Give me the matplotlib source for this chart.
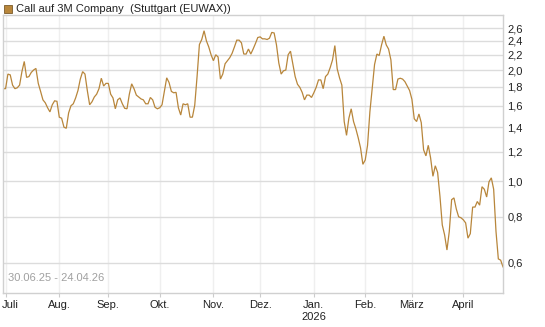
import matplotlib
matplotlib.use("Agg")
import matplotlib.pyplot as plt
import matplotlib.ticker as mticker
import pandas as pd
import numpy as np

plt.rcParams['font.family'] = ['Liberation Sans', 'DejaVu Sans']

title = "Call auf 3M Company  (Stuttgart (EUWAX))"
date_range_text = "30.06.25 - 24.04.26"
start_date = "2025-06-30"
end_date = "2026-04-24"

values = [
    1.78, 1.78, 1.95, 1.94, 1.82, 1.78, 1.79, 1.82, 1.98, 2.11,
    1.91, 1.92, 1.97, 2.00, 2.02, 1.84, 1.75, 1.66, 1.63, 1.58,
    1.54, 1.61, 1.65, 1.645, 1.49, 1.48, 1.40, 1.39, 1.53, 1.60,
    1.62, 1.68, 1.76, 1.89, 1.98, 1.95, 1.76, 1.61, 1.64, 1.69,
    1.72, 1.78, 1.90, 1.81, 1.84, 1.84, 1.72, 1.68, 1.57, 1.66,
    1.68, 1.62, 1.575, 1.57, 1.72, 1.835, 1.78, 1.71, 1.69, 1.67,
    1.66, 1.62, 1.62, 1.685, 1.66, 1.585, 1.57, 1.58, 1.61, 1.75,
    1.905, 1.85, 1.75, 1.735, 1.74, 1.58, 1.51, 1.62, 1.61, 1.62,
    1.49, 1.49, 1.605, 1.92, 2.345, 2.42, 2.556, 2.40, 2.31, 2.20,
    2.12, 2.20, 2.17, 1.89, 1.95, 2.08, 2.12, 2.16, 2.22, 2.31,
    2.41, 2.41, 2.37, 2.21, 2.21, 2.28, 2.21, 2.28, 2.36, 2.45,
    2.46, 2.43, 2.43, 2.42, 2.44, 2.53, 2.52, 2.34, 2.09, 1.95,
    1.99, 2.00, 2.20, 2.25, 2.08, 1.92, 1.83, 1.795, 1.74, 1.66,
    1.71, 1.71, 1.685, 1.735, 1.795, 1.88, 1.88, 1.78, 1.92, 1.95,
    2.03, 2.13, 2.33, 2.015, 1.905, 1.82, 1.45, 1.33, 1.48, 1.57,
    1.45, 1.385, 1.31, 1.23, 1.11, 1.14, 1.25, 1.54, 1.78, 2.07,
    2.21, 2.19, 2.34, 2.47, 2.34, 2.28, 2.13, 1.77, 1.77, 1.89,
    1.90, 1.89, 1.86, 1.81, 1.76, 1.665, 1.475, 1.45, 1.52, 1.44,
    1.215, 1.17, 1.25, 1.155, 1.03, 1.10, 1.055, 0.91, 0.76, 0.714,
    0.65, 0.73, 0.89, 0.90, 0.84, 0.80, 0.795, 0.785, 0.77, 0.70,
    0.72, 0.85, 0.85, 0.88, 0.86, 0.965, 0.95, 0.905, 0.995, 1.02,
    0.95, 0.73, 0.615, 0.61, 0.585,
]

month_labels = ["Juli", "Aug.", "Sep.", "Okt.", "Nov.", "Dez.", "Jan.\n2026",
                "Feb.", "März", "April"]
y_ticks = [0.6, 0.8, 1.0, 1.2, 1.4, 1.6, 1.8, 2.0, 2.2, 2.4, 2.6]

dates = pd.bdate_range(start_date, end_date)
n = min(len(dates), len(values))
dates = dates[:n]
vals = values[:n]
x = np.arange(n)

# first business day of each month (from July)
month_pos = []
seen = set()
for i, d in enumerate(dates):
    key = (d.year, d.month)
    if key not in seen:
        seen.add(key)
        if not (d.year == 2025 and d.month == 6):
            month_pos.append(i)
month_pos = month_pos[:len(month_labels)]

W, H = 545, 327
fig = plt.figure(figsize=(W / 100, H / 100), dpi=100)
ax = fig.add_axes([3 / W, 34 / H, 500 / W, 278 / H])

line_color = "#b8863b"
ax.plot(x, vals, color=line_color, lw=0.9, solid_joinstyle="miter")

ax.set_yscale("log")
ax.set_ylim(0.497, 2.82)
ax.set_xlim(-0.1, n - 1)

ax.yaxis.set_major_locator(mticker.FixedLocator(y_ticks))
ax.yaxis.set_minor_locator(mticker.NullLocator())
ax.set_yticks(y_ticks)
ax.set_yticklabels([f"{v:.1f}".replace(".", ",") for v in y_ticks])
ax.yaxis.tick_right()
ax.tick_params(axis="y", length=0, pad=3, labelsize=8, labelcolor="#222222")

ax.set_xticks(month_pos)
ax.set_xticklabels(month_labels)
ax.tick_params(axis="x", length=3, color="#cccccc", pad=2, labelsize=8,
               labelcolor="#222222")
# keep the first label inside the figure
first = ax.get_xticklabels()[0]
first.set_horizontalalignment("left")
first.set_x(first.get_position()[0])
import matplotlib.transforms as mtransforms
first.set_transform(first.get_transform() +
                    mtransforms.ScaledTranslation(-4 / 100, 0, fig.dpi_scale_trans))

ax.grid(axis="y", color="#dcdcdc", lw=1.0)
ax.grid(axis="x", color="#efefef", lw=1.0)
ax.set_axisbelow(True)

for s in ax.spines.values():
    s.set_color("#d0d0d0")
    s.set_linewidth(1.0)

ax.text(5 / 500, 0.035, date_range_text, transform=ax.transAxes,
        fontsize=8, color="#a0a0a0", ha="left", va="bottom")

# title with square marker
fig.patches.append(plt.Rectangle((4 / W, 1 - 13 / H), 8 / W, 8 / H,
                                 transform=fig.transFigure,
                                 facecolor="#b8863b", edgecolor="#7a5a2a",
                                 lw=0.6))
fig.text(16 / W, 1 - 9 / H, title, fontsize=8, color="#222222",
         ha="left", va="center")

fig.savefig("out.png", dpi=100)
